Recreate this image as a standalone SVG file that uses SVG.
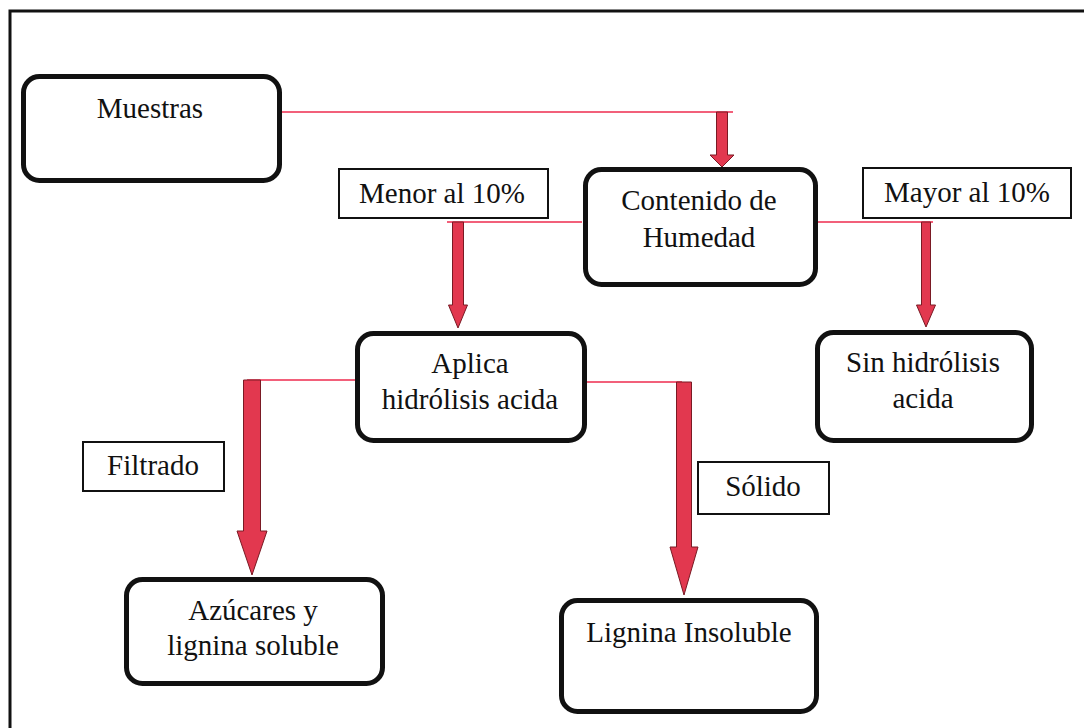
<svg xmlns="http://www.w3.org/2000/svg" width="1084" height="728" viewBox="0 0 1084 728">
<style>
.node{fill:#fff;stroke:#111;stroke-width:5}
.lbl{fill:#fff;stroke:#111;stroke-width:2}
text{font-family:'Liberation Serif','DejaVu Serif',serif;font-size:29px;fill:#111;text-anchor:middle}
.ln{stroke:#f2607a;stroke-width:2;fill:none}
.arr{fill:#e2384f;stroke:#7a1a24;stroke-width:1}
</style>
<rect width="1084" height="728" fill="#fff"/>
<path d="M10,728 V11 H1084" fill="none" stroke="#111" stroke-width="3"/>
<g id="connectors">
<line class="ln" x1="282" y1="112" x2="733" y2="112"/>
<polygon class="arr" points="716.5,112 727.5,112 727.5,155 734,155 722,167 710,155 716.5,155"/>
<line class="ln" x1="582" y1="222" x2="447" y2="222"/>
<polygon class="arr" points="452.5,222 463.5,222 463.5,305 467.5,305 458,328 448.5,305 452.5,305"/>
<line class="ln" x1="818" y1="222" x2="933" y2="222"/>
<polygon class="arr" points="921.5,222 930.5,222 930.5,305 935.5,305 926,327 916.5,305 921.5,305"/>
<line class="ln" x1="355" y1="380" x2="247" y2="380"/>
<polygon class="arr" points="243.5,380 260.5,380 260.5,531 267,531 252,575 237,531 243.5,531"/>
<line class="ln" x1="587" y1="382" x2="682" y2="382"/>
<polygon class="arr" points="676.5,382 691.5,382 691.5,547 698,547 684,595 670,547 676.5,547"/>
</g>
<g id="muestras">
<rect class="node" x="23.5" y="76.5" width="256" height="104" rx="16"/>
<text x="150" y="118" font-family="Liberation Serif, serif">Muestras</text>
</g>
<g id="contenido">
<rect class="node" x="585.5" y="169.5" width="230" height="115" rx="16"/>
<text x="699" y="210" font-family="Liberation Serif, serif">Contenido de</text>
<text x="699" y="247" font-family="Liberation Serif, serif">Humedad</text>
</g>
<g id="menor">
<rect class="lbl" x="339" y="169" width="209" height="49"/>
<text x="442" y="203" font-family="Liberation Serif, serif">Menor al 10%</text>
</g>
<g id="mayor">
<rect class="lbl" x="863" y="168" width="208" height="50"/>
<text x="967" y="202" font-family="Liberation Serif, serif">Mayor al 10%</text>
</g>
<g id="aplica">
<rect class="node" x="357.5" y="333.5" width="227" height="107" rx="16"/>
<text x="470" y="373" font-family="Liberation Serif, serif">Aplica</text>
<text x="470" y="409" font-family="Liberation Serif, serif">hidrólisis acida</text>
</g>
<g id="sin">
<rect class="node" x="817.5" y="332.5" width="214" height="108" rx="16"/>
<text x="923" y="372" font-family="Liberation Serif, serif">Sin hidrólisis</text>
<text x="923" y="408" font-family="Liberation Serif, serif">acida</text>
</g>
<g id="filtrado">
<rect class="lbl" x="83" y="442" width="141" height="49"/>
<text x="153" y="475" font-family="Liberation Serif, serif">Filtrado</text>
</g>
<g id="solido">
<rect class="lbl" x="698" y="462" width="131" height="52"/>
<text x="763" y="496" font-family="Liberation Serif, serif">Sólido</text>
</g>
<g id="azucares">
<rect class="node" x="126.5" y="579.5" width="256" height="104" rx="16"/>
<text x="253" y="620" font-family="Liberation Serif, serif">Azúcares y</text>
<text x="253" y="655" font-family="Liberation Serif, serif">lignina soluble</text>
</g>
<g id="lignina">
<rect class="node" x="561.5" y="600.5" width="255" height="111" rx="16"/>
<text x="689" y="642" font-family="Liberation Serif, serif">Lignina Insoluble</text>
</g>
</svg>
